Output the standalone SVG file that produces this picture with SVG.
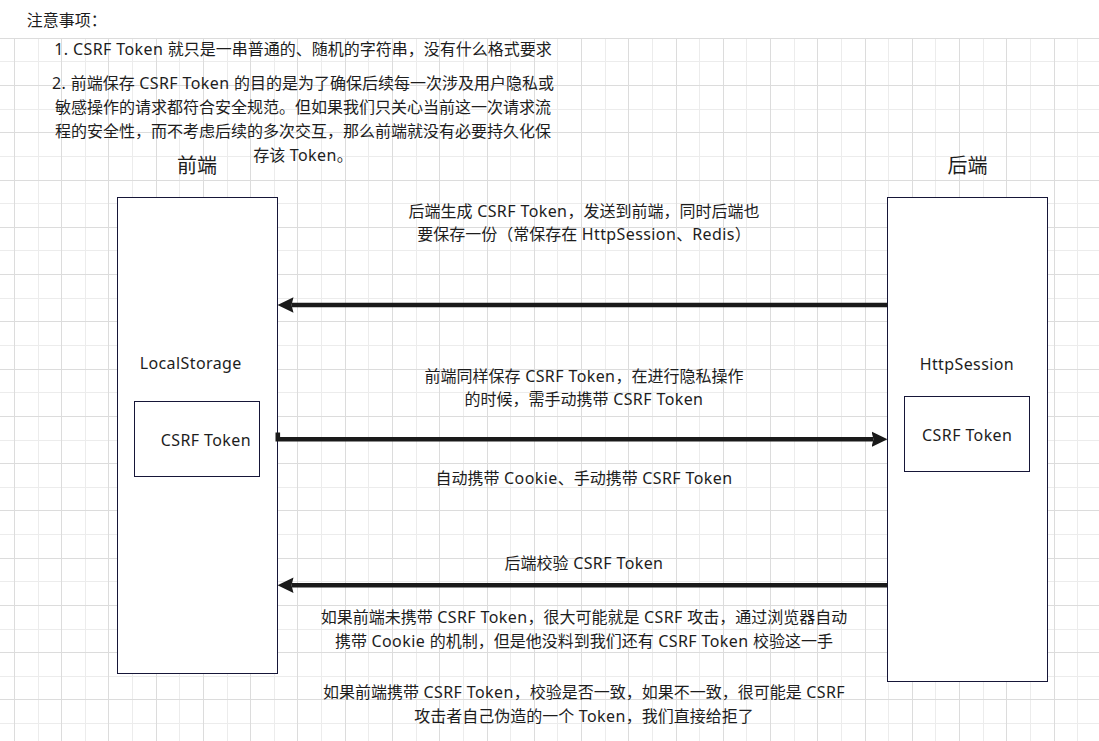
<svg xmlns="http://www.w3.org/2000/svg" width="1099" height="741" viewBox="0 0 1099 741">
<defs>
<style>
.t{font-family:"Noto Sans","Noto Sans CJK SC",sans-serif;font-size:16px;fill:#1d1d1d}
.c{text-anchor:middle}
.h{font-size:20px}
.l{letter-spacing:0.4px}
.box{fill:#ffffff;stroke:#161638;stroke-width:1}
.minor{fill:none;stroke:#ececec;stroke-width:1}
.major{fill:none;stroke:#dcdcdc;stroke-width:1}
.conn{fill:none;stroke:#1a1a1a;stroke-width:4.6;stroke-linejoin:miter}
</style>
<marker id="ah" markerUnits="userSpaceOnUse" markerWidth="17" markerHeight="16" refX="2" refY="7.75" orient="auto">
<path d="M0,0 L16,7.75 L0,15.5 L2,7.75 Z" fill="#1a1a1a"/>
</marker>
</defs>
<rect x="0" y="0" width="1099" height="741" fill="#ffffff"/>
<g id="grid" shape-rendering="crispEdges">
<path class="minor" d="M38.03 38.3V741M85.29 38.3V741M132.55 38.3V741M179.81 38.3V741M227.07 38.3V741M274.33 38.3V741M321.59 38.3V741M368.85 38.3V741M416.11 38.3V741M463.37 38.3V741M510.63 38.3V741M557.89 38.3V741M605.15 38.3V741M652.41 38.3V741M699.67 38.3V741M746.93 38.3V741M794.19 38.3V741M841.45 38.3V741M888.71 38.3V741M935.97 38.3V741M983.23 38.3V741M1030.49 38.3V741M1077.75 38.3V741M0 61.93H1099M0 109.19H1099M0 156.45H1099M0 203.71H1099M0 250.97H1099M0 298.23H1099M0 345.49H1099M0 392.75H1099M0 440.01H1099M0 487.27H1099M0 534.53H1099M0 581.79H1099M0 629.05H1099M0 676.31H1099M0 723.57H1099"/>
<path class="major" d="M14.4 38.3V741M61.66 38.3V741M108.92 38.3V741M156.18 38.3V741M203.44 38.3V741M250.7 38.3V741M297.96 38.3V741M345.22 38.3V741M392.48 38.3V741M439.74 38.3V741M487 38.3V741M534.26 38.3V741M581.52 38.3V741M628.78 38.3V741M676.04 38.3V741M723.3 38.3V741M770.56 38.3V741M817.82 38.3V741M865.08 38.3V741M912.34 38.3V741M959.6 38.3V741M1006.86 38.3V741M1054.12 38.3V741M0 38.3H1099M0 85.56H1099M0 132.82H1099M0 180.08H1099M0 227.34H1099M0 274.6H1099M0 321.86H1099M0 369.12H1099M0 416.38H1099M0 463.64H1099M0 510.9H1099M0 558.16H1099M0 605.42H1099M0 652.68H1099M0 699.94H1099"/>
</g>
<g id="notes">
<text class="t" x="26.7" y="25.7">注意事项：</text>
<text class="t c" x="303" y="55.3"><tspan class="l">1. CSRF Token </tspan>就只是一串普通的、随机的字符串，没有什么格式要求</text>
<text class="t c" x="303" y="88.5"><tspan class="l">2. </tspan>前端保存<tspan class="l"> CSRF Token </tspan>的目的是为了确保后续每一次涉及用户隐私或</text>
<text class="t c" x="303" y="112.8">敏感操作的请求都符合安全规范。但如果我们只关心当前这一次请求流</text>
<text class="t c" x="303" y="137">程的安全性，而不考虑后续的多次交互，那么前端就没有必要持久化保</text>
<text class="t c" x="303" y="161.3">存该<tspan class="l"> Token</tspan>。</text>
</g>
<g id="frontend-title"><text class="t c h" x="197" y="173.4">前端</text></g>
<g id="backend-title"><text class="t c h" x="967.5" y="173.4">后端</text></g>
<g id="frontend">
<rect class="box" x="117.5" y="197.5" width="160" height="476"/>
<text class="t c l" x="190.7" y="368.5">LocalStorage</text>
</g>
<g id="frontend-token">
<rect class="box" x="134.5" y="401.5" width="125" height="75"/>
<text class="t c l" x="205.9" y="446">CSRF Token</text>
</g>
<g id="backend">
<rect class="box" x="887.5" y="197.5" width="160" height="484"/>
<text class="t c l" x="966.9" y="369.5">HttpSession</text>
</g>
<g id="backend-token">
<rect class="box" x="904.5" y="396.5" width="125" height="75"/>
<text class="t c l" x="967.2" y="440.5">CSRF Token</text>
</g>
<g id="connectors">
<path class="conn" d="M887.5 305 L291.5 305" marker-end="url(#ah)"/>
<path class="conn" d="M277.8 432.5 L277.8 439.2 L873.5 439.2" marker-end="url(#ah)"/>
<path class="conn" d="M887.5 585.2 L291.5 585.2" marker-end="url(#ah)"/>
</g>
<g id="labels">
<text class="t c" x="584" y="217">后端生成<tspan class="l"> CSRF Token</tspan>，发送到前端，同时后端也</text>
<text class="t c" x="584" y="240.3">要保存一份（常保存在<tspan class="l"> HttpSession</tspan>、<tspan class="l">Redis</tspan>）</text>
<text class="t c" x="584" y="382">前端同样保存<tspan class="l"> CSRF Token</tspan>，在进行隐私操作</text>
<text class="t c" x="584" y="405.3">的时候，需手动携带<tspan class="l"> CSRF Token</tspan></text>
<text class="t c" x="584" y="484.3">自动携带<tspan class="l"> Cookie</tspan>、手动携带<tspan class="l"> CSRF Token</tspan></text>
<text class="t c" x="584" y="569">后端校验<tspan class="l"> CSRF Token</tspan></text>
<text class="t c" x="584" y="622.7">如果前端未携带<tspan class="l"> CSRF Token</tspan>，很大可能就是<tspan class="l"> CSRF </tspan>攻击，通过浏览器自动</text>
<text class="t c" x="584" y="646.7">携带<tspan class="l"> Cookie </tspan>的机制，但是他没料到我们还有<tspan class="l"> CSRF Token </tspan>校验这一手</text>
<text class="t c" x="584" y="697.7">如果前端携带<tspan class="l"> CSRF Token</tspan>，校验是否一致，如果不一致，很可能是<tspan class="l"> CSRF</tspan></text>
<text class="t c" x="584" y="722">攻击者自己伪造的一个<tspan class="l"> Token</tspan>，我们直接给拒了</text>
</g>
</svg>
